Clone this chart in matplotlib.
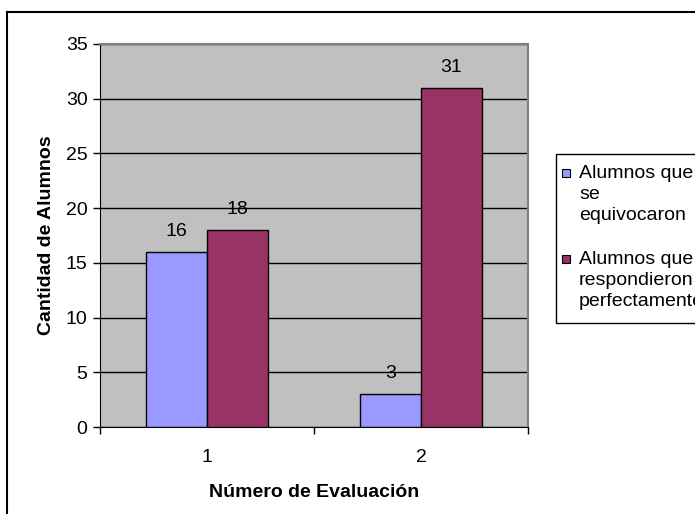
import matplotlib.pyplot as plt
from matplotlib.lines import Line2D
from matplotlib.patches import Rectangle
import numpy as np

plt.rcParams['font.family'] = ['Liberation Sans', 'DejaVu Sans']

evaluaciones = ['1', '2']
equivocaron = [16, 3]
perfectamente = [18, 31]
series_labels = ['Alumnos que\nse\nequivocaron', 'Alumnos que\nrespondieron\nperfectamente']
colores = ['#9999FF', '#993366']

fs = 14
fig = plt.figure(figsize=(6.95, 5.14), dpi=100)
ax = fig.add_axes([100/695, 1-427/514, (528-100)/695, (427-44)/514])
ax.set_facecolor('#C0C0C0')

x = np.arange(len(evaluaciones))
w = 0.285
b1 = ax.bar(x - w/2, equivocaron, w, color=colores[0], edgecolor='black', linewidth=1, zorder=3)
b2 = ax.bar(x + w/2, perfectamente, w, color=colores[1], edgecolor='black', linewidth=1, zorder=3)
for bars, vals in ((b1, equivocaron), (b2, perfectamente)):
    for r, v in zip(bars, vals):
        ax.text(r.get_x() + r.get_width()/2, v + 1.45, str(v), ha='center', va='baseline', fontsize=fs)

ax.set_xlim(-0.5, 1.5)
ax.set_ylim(0, 35)
ax.set_yticks(range(0, 36, 5))
ax.yaxis.grid(True, color='black', linewidth=1, zorder=1)
ax.set_axisbelow(True)
ax.set_xticks(x)
ax.set_xticklabels(evaluaciones)
ax.set_xticks([-0.5, 0.5, 1.5], minor=True)
ax.tick_params(axis='x', which='major', length=0, pad=16, labelsize=fs)
ax.tick_params(axis='x', which='minor', length=5, width=1, direction='out')
ax.tick_params(axis='y', length=5, width=1, labelsize=fs, pad=4)
for s in ['top', 'right']:
    ax.spines[s].set_color('#808080')
    ax.spines[s].set_linewidth(1.5)
for s in ['left', 'bottom']:
    ax.spines[s].set_color('black')

ax.set_xlabel('Número de Evaluación', fontsize=fs, fontweight='bold', labelpad=13)
ax.set_ylabel('Cantidad de Alumnos', fontsize=fs, fontweight='bold', labelpad=8)

# borde exterior del gráfico (solo izquierda y arriba visibles)
fig.add_artist(Line2D([7/695, 7/695], [0, 1-12/514], transform=fig.transFigure, color='black', linewidth=1.5))
fig.add_artist(Line2D([7/695, 1], [1-12/514, 1-12/514], transform=fig.transFigure, color='black', linewidth=1.5))

# leyenda
fig.add_artist(Rectangle((556/695, 1-323/514), (720-556)/695, (323-154)/514, transform=fig.transFigure,
                         facecolor='white', edgecolor='black', linewidth=1, clip_on=False))
for i, (lab, c) in enumerate(zip(series_labels, colores)):
    top = 173 + i*86
    fig.add_artist(Rectangle((562/695, 1-(top+4)/514), 8/695, 8/514, transform=fig.transFigure,
                             facecolor=c, edgecolor='black', linewidth=0.8))
    fig.text(579/695, 1-(top-8)/514, lab, fontsize=fs, va='top', ha='left', linespacing=1.32)

fig.savefig('out.png', dpi=100)
